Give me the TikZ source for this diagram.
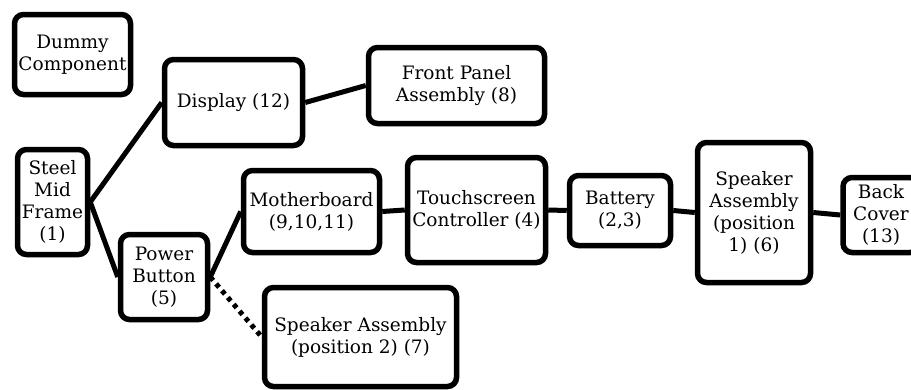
\documentclass[tikz,border=0pt]{standalone}
\usepackage{fontspec}
\setmainfont{DejaVu Serif}
\usepackage{tikz}

\tikzset{
  part/.style={draw, line width=5.5pt, rounded corners=9pt, align=center,
    inner sep=2pt, font=\fontsize{18.5}{22}\selectfont},
  link/.style={line width=5pt}
}

\begin{document}
\begin{tikzpicture}[x=1pt,y=-1pt]
\useasboundingbox (0,0) rectangle (911,389);

\node [part, minimum width=116, minimum height=80] (dummy) at (72.5,54.5) {Dummy\\Component};
\node [part, minimum width=70, minimum height=105] (frame) at (52.5,202) {Steel\\Mid\\Frame\\(1)};
\node [part, minimum width=138, minimum height=86] (display) at (233.5,102.5) {Display (12)};
\node [part, minimum width=176, minimum height=76] (front) at (456.5,85.5) {Front Panel\\Assembly (8)};
\node [part, minimum width=87, minimum height=85] (power) at (164,277) {Power\\Button\\(5)};
\node [part, minimum width=136, minimum height=82] (mobo) at (311.5,211.5) {Motherboard\\(9,10,11)};
\node [part, minimum width=138, minimum height=105] (touch) at (476.5,210) {Touchscreen\\Controller (4)};
\node [part, minimum width=101, minimum height=70] (battery) at (620,210.5) {Battery\\(2,3)};
\node [part, minimum width=113, minimum height=140] (speakerA) at (754,212.5) {Speaker\\Assembly\\(position\\1) (6)};
\node [part, minimum width=76, minimum height=75] (cover) at (881,215) {Back\\Cover\\(13)};
\node [part, minimum width=192, minimum height=99] (speakerB) at (360.5,337) {Speaker Assembly\\(position 2) (7)};

\draw [link] (frame.east) -- (display.west);
\draw [link] (frame.east) -- (power.west);
\draw [link] (display.east) -- (front.west);
\draw [link] (power.east) -- (mobo.west);
\draw [link, dash pattern=on 4.5pt off 4.5pt] (power.east) -- (speakerB.west);
\draw [link] (mobo.east) -- (touch.west);
\draw [link] (touch.east) -- (battery.west);
\draw [link] (battery.east) -- (speakerA.west);
\draw [link] (speakerA.east) -- (cover.west);

\end{tikzpicture}
\end{document}
